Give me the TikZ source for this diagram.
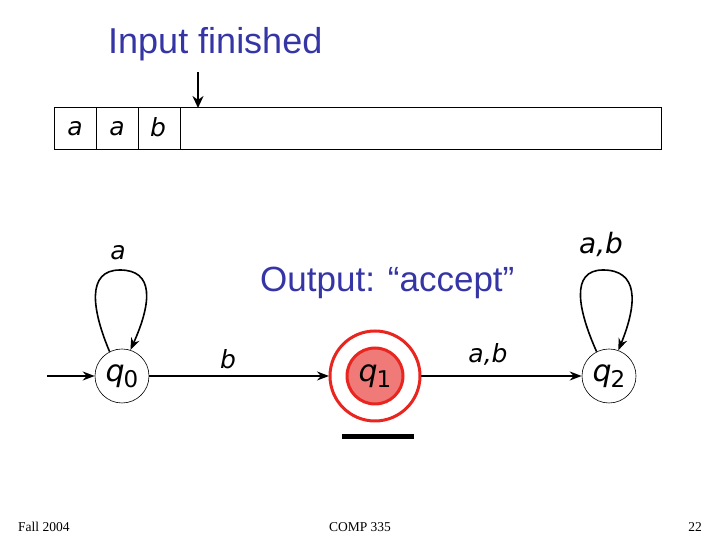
\documentclass[tikz,border=0pt]{standalone}
\usepackage{fontspec}
\setmainfont{Liberation Sans}
\newfontfamily\footfont{Liberation Serif}
\newfontfamily\symfont{DejaVu Sans}
\usetikzlibrary{arrows.meta}
\definecolor{txtblue}{HTML}{3535A5}
\definecolor{accred}{HTML}{E8251F}
\definecolor{accfill}{HTML}{F07A78}
\tikzset{
  x=1pt,y=1pt,
  tip/.style={-{Stealth[length=12pt,width=9pt]}},
  edge/.style={line width=1.6pt,tip},
  state/.style={circle,draw,line width=0.6pt,minimum size=54pt,inner sep=0pt,font=\symfont\fontsize{30}{30}\selectfont\itshape},
  lbl/.style={font=\symfont\fontsize{25}{25}\selectfont\itshape},
  tapelbl/.style={font=\symfont\fontsize{25}{25}\selectfont\itshape},
  bluetext/.style={text=txtblue,anchor=base west,inner sep=0pt},
  foot/.style={font=\footfont\fontsize{13.5}{13.5}\selectfont,inner sep=0pt}
}
\newcommand{\qs}[1]{q\kern-1pt\raisebox{-6pt}{\fontsize{23}{23}\selectfont\upshape #1}}
\begin{document}
\begin{tikzpicture}
\useasboundingbox (0,0) rectangle (720,540);
% title
\node[bluetext,font=\fontsize{36}{36}\selectfont] (title) at (108,486) {Input finished};
% tape
\node[draw,line width=0.6pt,minimum width=607pt,minimum height=42pt,inner sep=0pt,anchor=south west] (tape) at (54,390) {};
\draw[line width=0.6pt] (96,390) -- (96,432) (138,390) -- (138,432) (180,390) -- (180,432);
\node[tapelbl] (t1) at (75,411) {a};
\node[tapelbl] (t2) at (117,411) {a};
\node[tapelbl] (t3) at (158,413) {b};
\coordinate (headtop) at (198,468);
\draw[line width=2.6pt,-{Stealth[length=12pt,width=11pt]}] (headtop) -- (198,432);
% output
\node[bluetext,font=\fontsize{35}{35}\selectfont] (out) at (260,248) {Output: “accept”};
% states
\node[state] (q0) at (122,164) {\qs{0}};
\node[state,draw=none] (q1) at (375,164) {};
\draw[accred,line width=3pt] (q1) circle (45pt);
\node[circle,draw=accred,fill=accfill,line width=3pt,minimum size=56pt,inner sep=0pt,font=\symfont\fontsize{30}{30}\selectfont\itshape] (q1in) at (375,164) {\qs{1}};
\node[state] (q2) at (609,164) {\qs{2}};
\coordinate (q1w) at (329,164);
\coordinate (q1e) at (421,164);
\coordinate (init) at (47,164);
% underline bar
\draw[line width=5pt] (342,103) -- (414,103);
% edges
\draw[edge] (init) -- (q0);
\draw[edge] (q0) -- (q1w);
\draw[edge] (q1e) -- (q2);
\node[lbl] (lb) at (228,181) {b};
\node[lbl] (lab) at (488,186) {a,b};
% loops
\draw[edge] (q0.117) .. controls (92,230) and (86,270) .. (120,270) .. controls (154,270) and (152,238) .. (q0.72);
\node[lbl] (la) at (118,287) {a};
\draw[edge] (q2.117) .. controls (578,230) and (570,270) .. (603,270) .. controls (638,270) and (638,238) .. (q2.70);
\node[lbl,font=\symfont\fontsize{28}{28}\selectfont\itshape] (lab2) at (601,296) {a,b};
% footer
\node[foot,anchor=west] (f1) at (18,13) {Fall 2004};
\node[foot] (f2) at (360,13) {COMP 335};
\node[foot,anchor=east] (f3) at (702,13) {22};
\end{tikzpicture}
\end{document}
